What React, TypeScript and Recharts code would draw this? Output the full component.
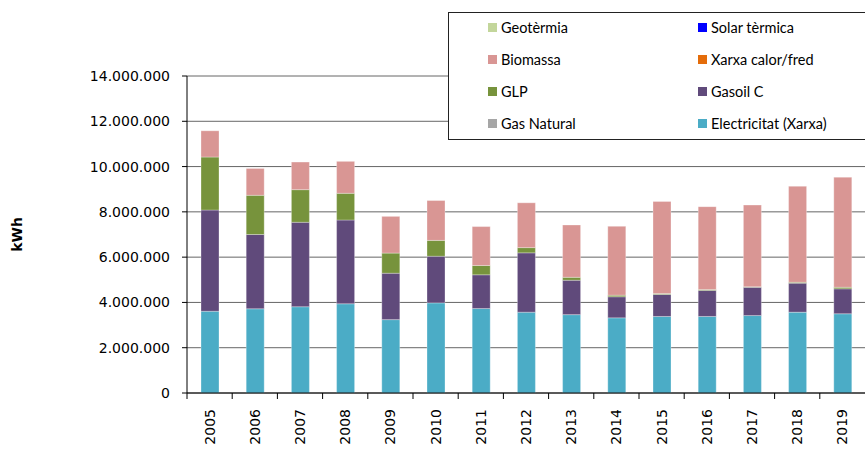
import { BarChart, Bar, XAxis, YAxis, CartesianGrid } from 'recharts'

const YEARS = ['2005', '2006', '2007', '2008', '2009', '2010', '2011', '2012', '2013', '2014', '2015', '2016', '2017', '2018', '2019']
const ELECTRICITAT = [3610000, 3720000, 3810000, 3940000, 3240000, 3980000, 3730000, 3570000, 3460000, 3320000, 3380000, 3380000, 3420000, 3570000, 3500000]
const GAS_NATURAL = [0, 0, 0, 0, 0, 0, 0, 0, 0, 0, 0, 0, 0, 0, 0]
const GASOIL_C = [4470000, 3280000, 3730000, 3700000, 2050000, 2060000, 1490000, 2620000, 1520000, 930000, 970000, 1150000, 1250000, 1280000, 1100000]
const GLP = [2340000, 1730000, 1440000, 1180000, 890000, 700000, 410000, 230000, 130000, 70000, 40000, 40000, 20000, 40000, 70000]
const XARXA = [0, 0, 0, 0, 0, 0, 0, 0, 0, 0, 0, 0, 0, 0, 0]
const BIOMASSA = [1160000, 1190000, 1220000, 1410000, 1620000, 1760000, 1720000, 1980000, 2310000, 3040000, 4070000, 3660000, 3610000, 4240000, 4860000]
const SOLAR = [0, 0, 0, 0, 0, 0, 0, 0, 0, 0, 0, 0, 0, 0, 0]
const GEOTERMIA = [0, 0, 0, 0, 0, 0, 0, 0, 0, 0, 0, 0, 0, 0, 0]
const Y_TICKS = [0, 2000000, 4000000, 6000000, 8000000, 10000000, 12000000, 14000000]

// stack order bottom -> top
const SERIES = [
  { key: 'elec', name: 'Electricitat (Xarxa)', color: '#4bacc6', values: ELECTRICITAT },
  { key: 'gasnat', name: 'Gas Natural', color: '#a6a6a6', values: GAS_NATURAL },
  { key: 'gasoil', name: 'Gasoil C', color: '#604a7b', values: GASOIL_C },
  { key: 'glp', name: 'GLP', color: '#77933c', values: GLP },
  { key: 'xarxa', name: 'Xarxa calor/fred', color: '#e46c0a', values: XARXA },
  { key: 'bio', name: 'Biomassa', color: '#d99694', values: BIOMASSA },
  { key: 'solar', name: 'Solar tèrmica', color: '#0000ff', values: SOLAR },
  { key: 'geo', name: 'Geotèrmia', color: '#c3d69b', values: GEOTERMIA },
]

// legend rows as in the original (left, right)
const LEGEND_ROWS = [['geo', 'solar'], ['bio', 'xarxa'], ['glp', 'gasoil'], ['gasnat', 'elec']]

const data = YEARS.map((y, i) => {
  const row: Record<string, string | number> = { year: y }
  SERIES.forEach(s => { row[s.key] = s.values[i] })
  return row
})

const W = 865
const H = 451
const LEFT = 187
const BAND = (W - LEFT) / YEARS.length
const FONT = '"DejaVu Sans", Verdana, sans-serif'

const fmt = (v: number) => String(v).replace(/\B(?=(\d{3})+(?!\d))/g, '.')

function XTick(props: any) {
  const { x, y, payload } = props
  const lx = x - BAND / 2
  return (
    <g>
      <line x1={lx} x2={lx} y1={y - 6} y2={y} stroke="#000" />
      <text x={x} y={y + 10} transform={`rotate(-90, ${x}, ${y + 10})`} textAnchor="end" dominantBaseline="central"
        fontFamily={FONT} fontSize={14} fill="#000">{payload.value}</text>
    </g>
  )
}

export default function App() {
  const byKey = Object.fromEntries(SERIES.map(s => [s.key, s]))
  return (
    <div style={{ position: 'absolute', left: 0, top: 0, width: W, height: H, overflow: 'hidden', background: '#fff' }}>
      <BarChart width={W} height={H} data={data} margin={{ top: 76, right: 0, bottom: 0, left: 0 }} barCategoryGap="60%">
        <CartesianGrid vertical={false} stroke="#666" />
        <XAxis dataKey="year" height={58} axisLine={{ stroke: '#000' }} tickLine={false} tickSize={6} tickMargin={0}
          tick={<XTick />} interval={0} />
        <YAxis width={LEFT} domain={[0, 14000000]} ticks={Y_TICKS} tickFormatter={fmt} interval={0}
          axisLine={{ stroke: '#000' }} tickLine={{ stroke: '#000' }} tickSize={5} tickMargin={12}
          tick={{ fontFamily: FONT, fontSize: 14, fill: '#000' }}
          label={{ value: 'kWh', angle: -90, position: 'insideLeft', offset: 17, style: { fontFamily: FONT, fontSize: 14, fontWeight: 'bold', fill: '#000', textAnchor: 'middle' } }} />
        {SERIES.map(s => (
          <Bar key={s.key} dataKey={s.key} name={s.name} stackId="a" fill={s.color} barSize={18}
            stroke="#ffffff" strokeOpacity={0.5} strokeWidth={0.6} isAnimationActive={false} />
        ))}
      </BarChart>
      <div style={{ position: 'absolute', left: 448, top: 12, width: 430, height: 128, border: '1px solid #222', background: '#fff', boxSizing: 'border-box', fontFamily: 'Lato, "Open Sans", sans-serif', fontSize: 14.5, color: '#000' }}>
        {LEGEND_ROWS.map((row, r) => row.map((k, c) => (
          <div key={k} style={{ position: 'absolute', left: c === 0 ? 39 : 249, top: 14 + r * 32 - 9, height: 18, display: 'flex', alignItems: 'center', whiteSpace: 'nowrap' }}>
            <span style={{ width: 9, height: 9, background: byKey[k].color, marginRight: 4, display: 'inline-block' }} />
            <span>{byKey[k].name}</span>
          </div>
        )))}
      </div>
    </div>
  )
}
